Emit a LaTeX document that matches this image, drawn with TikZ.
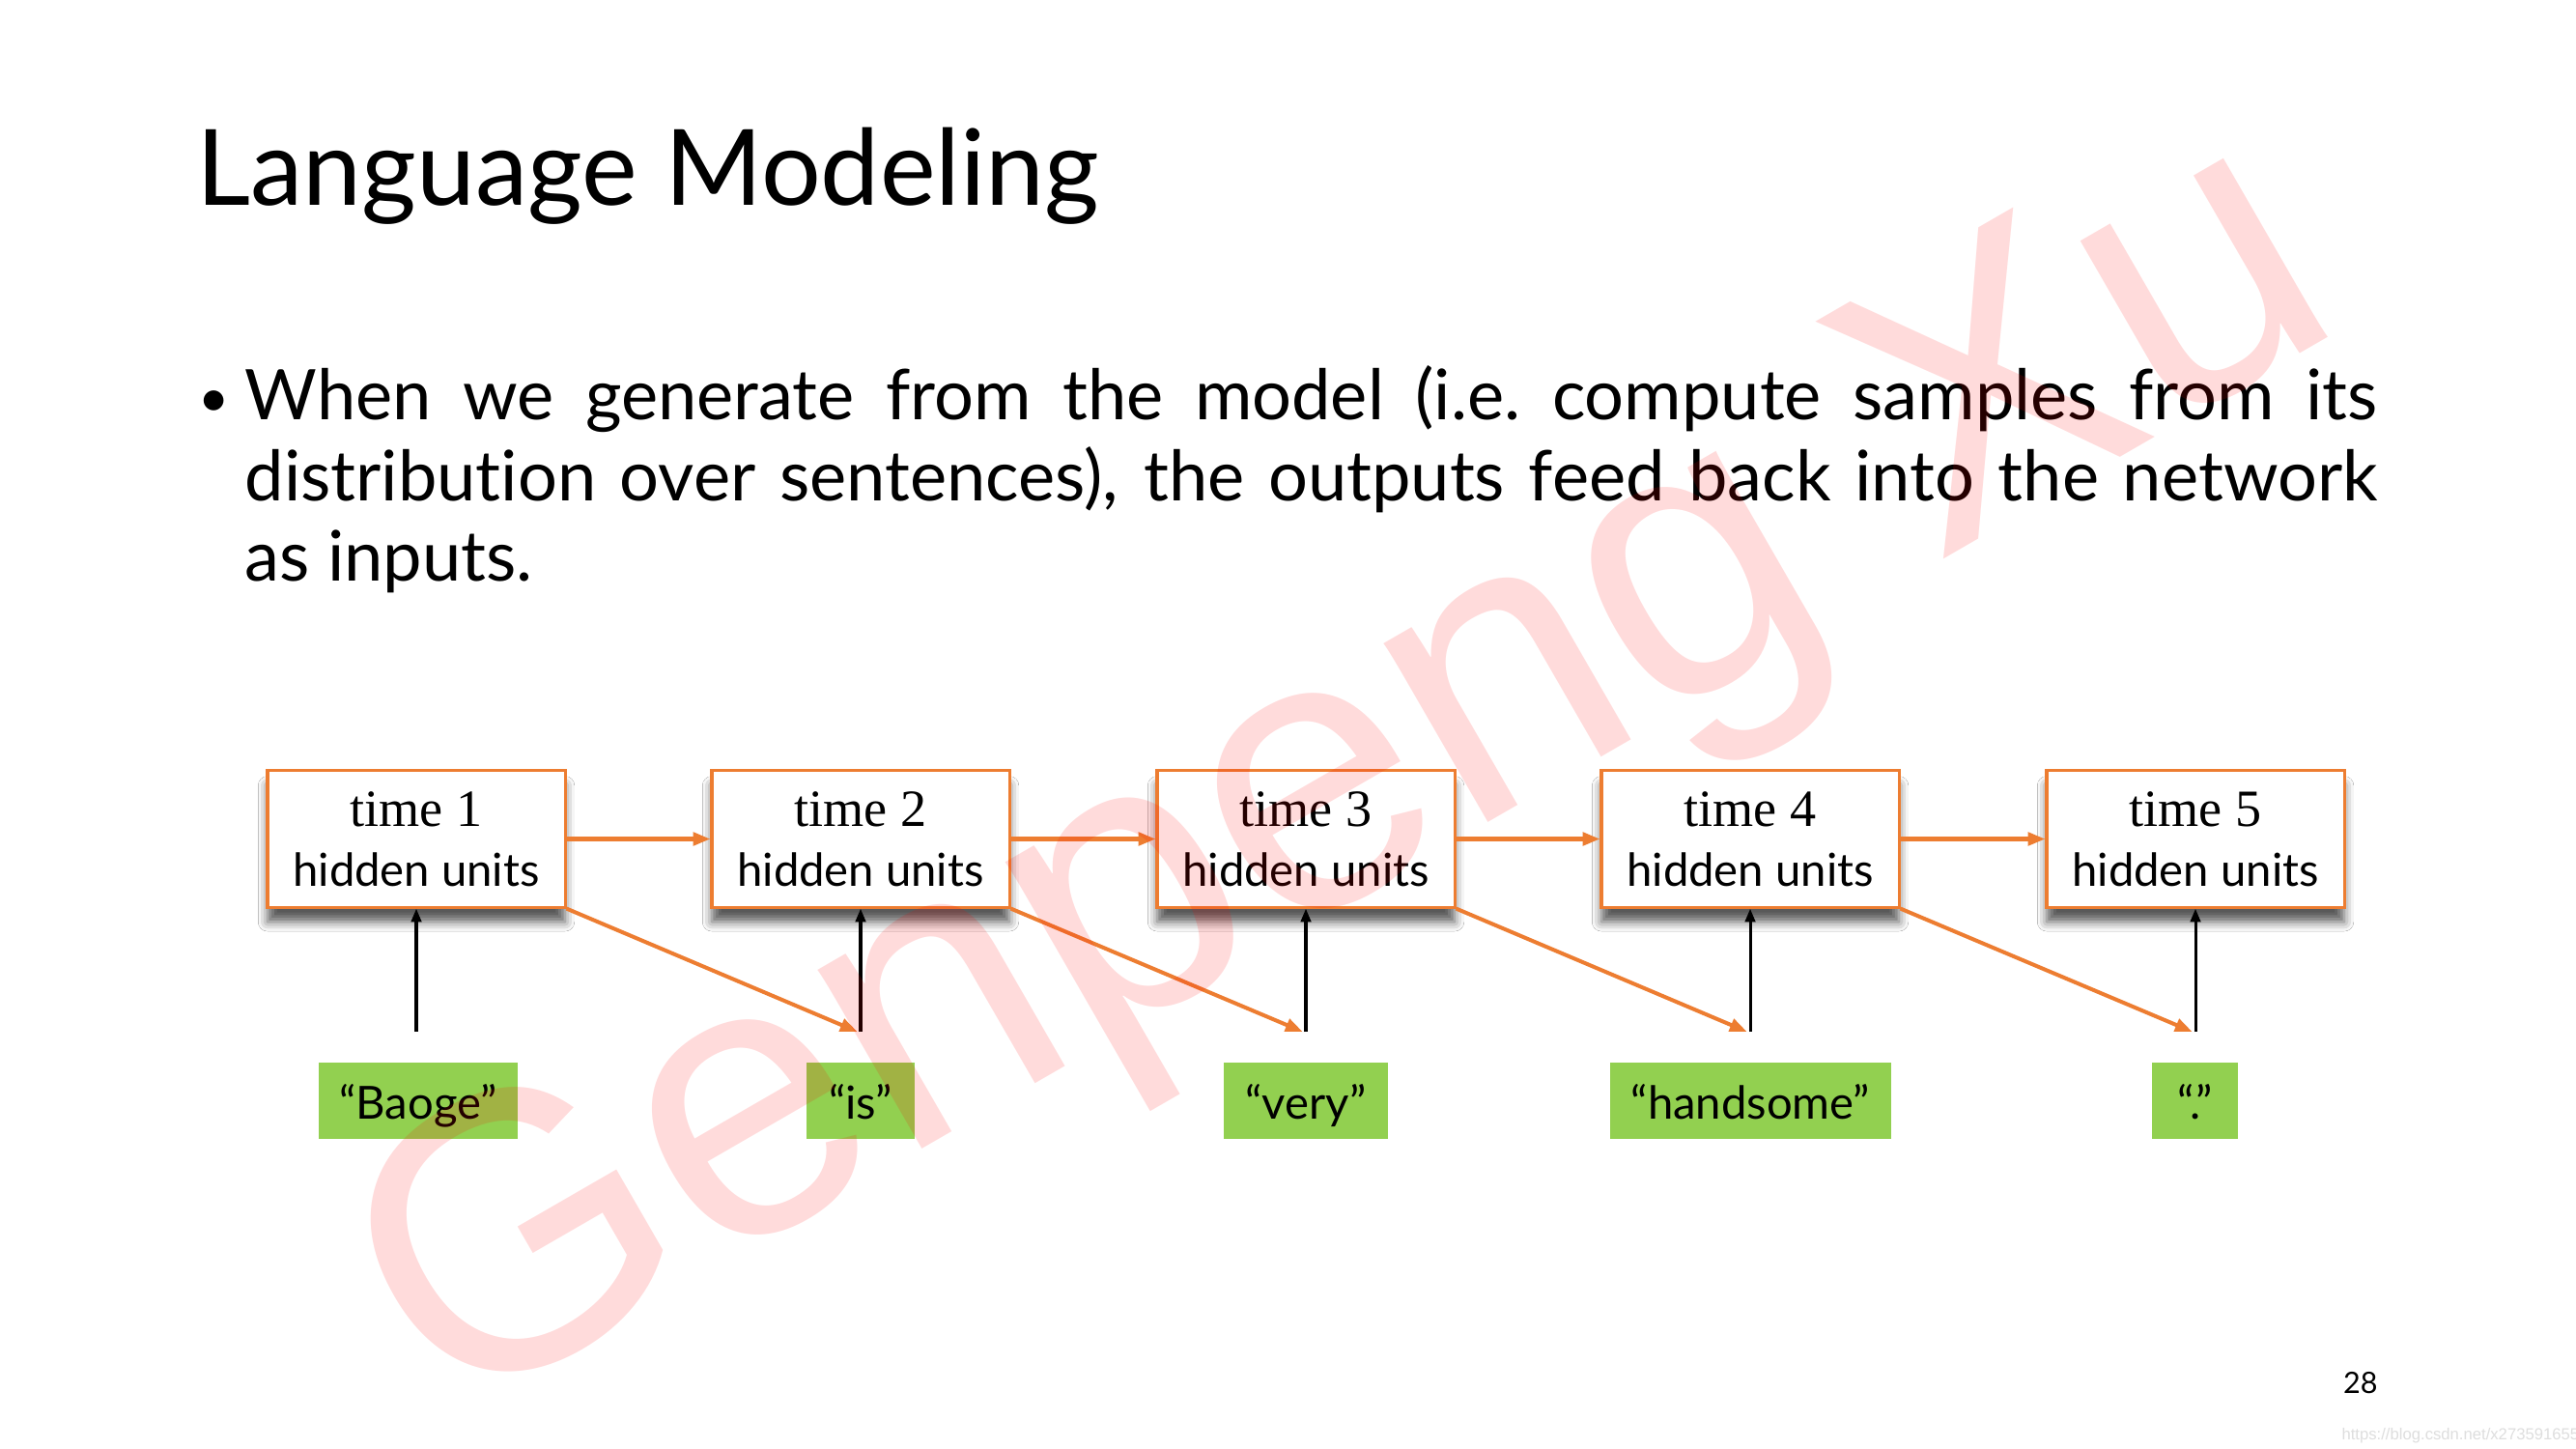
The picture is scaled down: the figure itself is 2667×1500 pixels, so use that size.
\documentclass[tikz,border=0pt]{standalone}
\usepackage{fontspec}
\setmainfont{Lato}[Ligatures={NoCommon}]
\newfontfamily\serifbox{Liberation Serif}
\newfontfamily\wmfont{Liberation Sans}
\usetikzlibrary{arrows.meta,shadows.blur}
\definecolor{orng}{HTML}{ED7D31}
\definecolor{grn}{HTML}{92D050}
\begin{document}
\begin{tikzpicture}[x=0.36pt,y=-0.36pt,
  hbox/.style={draw=orng, line width=1.1pt, fill=white, minimum width=110.9pt, minimum height=50.8pt,
    inner sep=0pt, align=center, font=\fontsize{17}{22.2}\selectfont,
    blur shadow={shadow xshift=0pt, shadow yshift=-5.5pt, shadow blur radius=3.5pt, shadow opacity=65}},
  word/.style={fill=grn, minimum height=28.4pt, inner sep=0pt, text height=14pt, text depth=0.6pt,
    font=\fontsize{17}{20}\selectfont},
  recur/.style={draw=orng, line width=1.45pt, -{Triangle[length=6.4pt,width=4.8pt]}},
  feed/.style={draw=black, line width=1.1pt, -{Triangle[length=5pt,width=3.8pt]}}]
\useasboundingbox (0,0) rectangle (2667,1500);
\fill[white] (0,0) rectangle (2667,1500);

% title
\node[anchor=base west, inner sep=0pt, font=\fontsize{39.3}{46}\selectfont] (title) at (203,213) {Language Modeling};

% bullet text
\node[anchor=base west, inner sep=0pt, font=\fontsize{20}{30}\selectfont] (bul) at (205,431) {•};
\node[anchor=base west, inner sep=0pt, text width=794.9pt, align=justify, font=\fontsize{26}{30}\selectfont] (body) at (253,435)
 {When we generate from the model (i.e.\ compute samples from its\linebreak
  distribution over sentences), the outputs feed back into the network\linebreak
  as inputs.};

% hidden unit boxes
\node[hbox] (h1) at (431,868.5) {{\serifbox\fontsize{19.5}{22.2}\selectfont time 1}\\hidden units};
\node[hbox] (h2) at (891,868.5) {{\serifbox\fontsize{19.5}{22.2}\selectfont time 2}\\hidden units};
\node[hbox] (h3) at (1352,868.5) {{\serifbox\fontsize{19.5}{22.2}\selectfont time 3}\\hidden units};
\node[hbox] (h4) at (1812,868.5) {{\serifbox\fontsize{19.5}{22.2}\selectfont time 4}\\hidden units};
\node[hbox] (h5) at (2273,868.5) {{\serifbox\fontsize{19.5}{22.2}\selectfont time 5}\\hidden units};

% words
\node[word, minimum width=74.2pt] (w1) at (433,1139.5) {“Baoge”};
\node[word, minimum width=40.3pt] (w2) at (891,1139.5) {“is”};
\node[word, minimum width=61.2pt] (w3) at (1352,1139.5) {“very”};
\node[word, minimum width=104.8pt] (w4) at (1812.5,1139.5) {“handsome”};
\node[word, minimum width=32pt] (w5) at (2272.5,1139.5) {“.”};

% input points
\coordinate (i1) at (431,1068);
\coordinate (i2) at (891,1068);
\coordinate (i3) at (1352,1068);
\coordinate (i4) at (1812,1068);
\coordinate (i5) at (2273,1068);

% horizontal recurrent arrows
\draw[recur] (h1.east) -- (h2.west);
\draw[recur] (h2.east) -- (h3.west);
\draw[recur] (h3.east) -- (h4.west);
\draw[recur] (h4.east) -- (h5.west);

% inputs
\draw[feed] (i1) -- (h1.south);
\draw[feed] (i2) -- (h2.south);
\draw[feed] (i3) -- (h3.south);
\draw[feed] (i4) -- (h4.south);
\draw[feed] (i5) -- (h5.south);

% outputs feeding back
\draw[recur] (h1.south east) -- ([xshift=-1.2pt]i2);
\draw[recur] (h2.south east) -- ([xshift=-1.2pt]i3);
\draw[recur] (h3.south east) -- ([xshift=-1.2pt]i4);
\draw[recur] (h4.south east) -- ([xshift=-1.2pt]i5);

% page number and source
\node[anchor=base east, inner sep=0pt, font=\fontsize{11}{13}\selectfont] (pg) at (2462,1442) {28};
\node[anchor=base west, inner sep=0pt, text=black!13, font=\wmfont\fontsize{6}{7}\selectfont] (src) at (2424,1490) {https://blog.csdn.net/x273591655};

% watermark
\node[rotate=30, anchor=base, inner sep=0pt, text=red, opacity=0.14, font=\wmfont\fontsize{146}{150}\selectfont] (wm) at (1448,905) {Genpeng Xu};
\end{tikzpicture}
\end{document}
